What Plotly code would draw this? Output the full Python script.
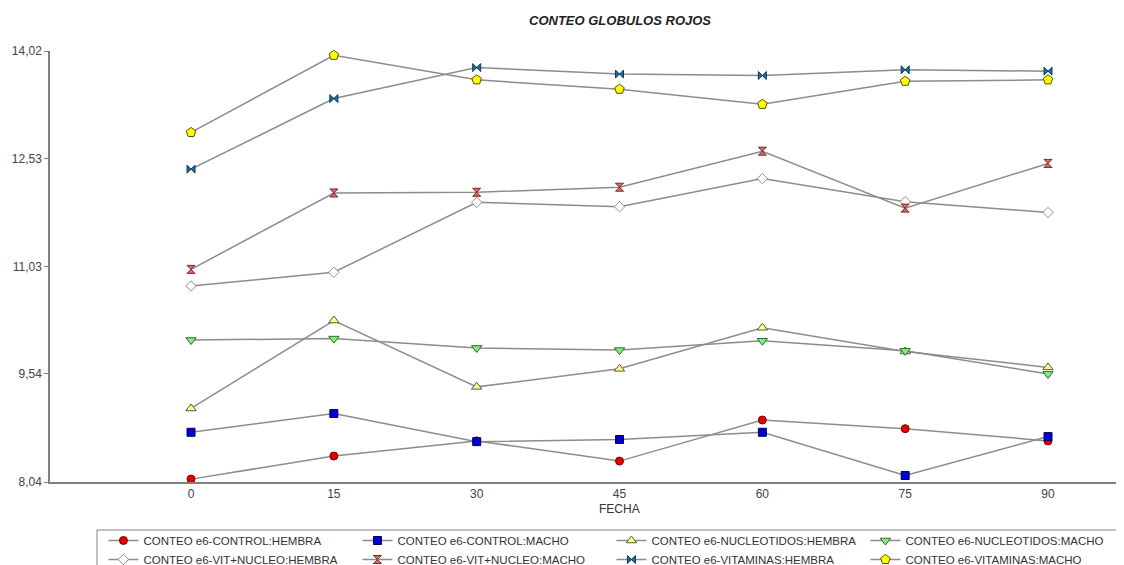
import plotly.graph_objects as go

fecha = [0, 15, 30, 45, 60, 75, 90]

control_hembra = [8.08, 8.40, 8.61, 8.33, 8.90, 8.78, 8.61]
control_macho = [8.73, 8.99, 8.60, 8.63, 8.73, 8.13, 8.67]
nucleotidos_hembra = [9.06, 10.28, 9.36, 9.61, 10.18, 9.85, 9.63]
nucleotidos_macho = [10.01, 10.03, 9.90, 9.87, 10.00, 9.86, 9.54]
vitnucleo_hembra = [10.76, 10.95, 11.92, 11.86, 12.25, 11.93, 11.78]
vitnucleo_macho = [10.99, 12.05, 12.06, 12.13, 12.63, 11.84, 12.46]
vitaminas_hembra = [12.38, 13.36, 13.79, 13.70, 13.68, 13.76, 13.74]
vitaminas_macho = [12.89, 13.96, 13.62, 13.49, 13.28, 13.60, 13.62]

y_ticks = [8.04, 9.54, 11.03, 12.53, 14.02]
y_tick_text = ["8,04", "9,54", "11,03", "12,53", "14,02"]

series = [
    ("CONTEO e6-CONTROL:HEMBRA", control_hembra, "circle", "#e00000", "#800000", 8),
    ("CONTEO e6-CONTROL:MACHO", control_macho, "square", "#0000d0", "#000060", 8),
    ("CONTEO e6-NUCLEOTIDOS:HEMBRA", nucleotidos_hembra, "triangle-up", "#ffff80", "#555555", 9),
    ("CONTEO e6-NUCLEOTIDOS:MACHO", nucleotidos_macho, "triangle-down", "#80f080", "#2a6a2a", 9),
    ("CONTEO e6-VIT+NUCLEO:HEMBRA", vitnucleo_hembra, "diamond", "#ffffff", "#909090", 8),
    ("CONTEO e6-VIT+NUCLEO:MACHO", vitnucleo_macho, "hourglass", "#d07070", "#8a2020", 8),
    ("CONTEO e6-VITAMINAS:HEMBRA", vitaminas_hembra, "bowtie", "#1a6e9a", "#0c3a55", 8),
    ("CONTEO e6-VITAMINAS:MACHO", vitaminas_macho, "pentagon", "#ffff00", "#555500", 10),
]

fig = go.Figure()
for name, vals, sym, fill, edge, sz in series:
    fig.add_trace(go.Scatter(
        x=fecha, y=vals, name=name, mode="lines+markers",
        line=dict(color="#8c8c8c", width=1.5),
        marker=dict(symbol=sym, color=fill, size=sz, line=dict(color=edge, width=1)),
        cliponaxis=False,
    ))

# page body adds 8px, so margins are shifted by that
fig.update_layout(
    width=1124, height=565,
    margin=dict(l=42, r=12, t=43, b=91),
    paper_bgcolor="white", plot_bgcolor="white",
    font=dict(family="Liberation Sans, Arial", size=11, color="#333333"),
    title=dict(text="<b><i>CONTEO GLOBULOS ROJOS</i></b>", x=0.5445, xanchor="center",
               y=0.9788, yanchor="middle", xref="container", yref="container",
               font=dict(size=13, color="#222222")),
    showlegend=True,
    legend=dict(
        orientation="h", xref="container", yref="container",
        x=0.0849, xanchor="left", y=0.0832, yanchor="top",
        borderwidth=0, bgcolor="rgba(0,0,0,0)",
        entrywidth=209, entrywidthmode="pixels", tracegroupgap=0,
        font=dict(size=11.5, color="#333333"), itemwidth=30,
    ),
)
# legend frame, open at the bottom/right like the original screenshot
fig.add_shape(type="rect", xref="paper", yref="paper", x0=0.0439, x1=1.05, y0=-0.4, y1=-0.1114,
              line=dict(color="#808080", width=1), fillcolor="rgba(0,0,0,0)", layer="below")
fig.update_xaxes(
    range=[-14.81, 97.56], tickvals=fecha, ticktext=[str(v) for v in fecha],
    showgrid=False, zeroline=False, showline=True, linecolor="#808080", linewidth=1.5,
    ticks="", tickfont=dict(size=12, color="#444444"), automargin=False,
)
fig.update_yaxes(
    range=[8.04, 14.02], tickvals=y_ticks, ticktext=y_tick_text,
    showgrid=False, zeroline=False, showline=True, linecolor="#808080", linewidth=1.5,
    ticks="outside", ticklen=4, tickcolor="#808080", tickfont=dict(size=12, color="#444444"),
    automargin=False,
)
fig.add_annotation(text="FECHA", xref="paper", yref="paper", x=0.5327, y=-0.0626,
                   showarrow=False, yanchor="middle", font=dict(size=12, color="#333333"))

fig.write_html("out.html")
